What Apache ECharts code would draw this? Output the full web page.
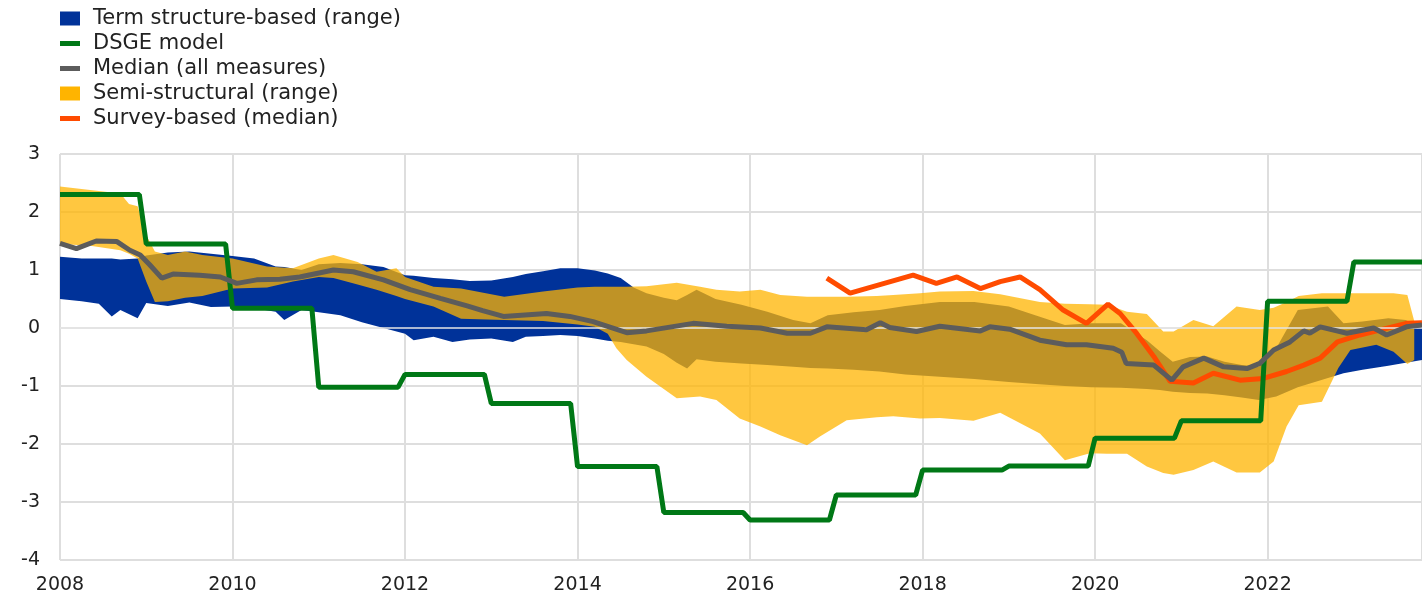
<!DOCTYPE html>
<html>
<head>
<meta charset="utf-8">
<script src="https://cdn.jsdelivr.net/npm/echarts@6/dist/echarts.min.js"></script>
<style>
  html, body { margin: 0; padding: 0; background: #fff; }
  #chart { width: 1422px; height: 591px; }
</style>
</head>
<body>
<div id="chart"></div>
<script>
// term structure-based range (blue)
var termX = [2008.0, 2008.25, 2008.45, 2008.6, 2008.7, 2008.9, 2009.0, 2009.25, 2009.5, 2009.75,
  2010.0, 2010.25, 2010.5, 2010.6, 2010.8, 2011.0, 2011.25, 2011.5, 2011.75, 2012.0,
  2012.1, 2012.33, 2012.55, 2012.75, 2013.0, 2013.25, 2013.4, 2013.6, 2013.8, 2014.0,
  2014.2, 2014.35, 2014.5, 2014.65, 2014.8, 2015.0, 2015.15, 2015.27, 2015.38, 2015.6,
  2015.9, 2016.2, 2016.5, 2016.7, 2016.9, 2017.2, 2017.5, 2017.8, 2018.2, 2018.6,
  2019.0, 2019.35, 2019.65, 2019.95, 2020.3, 2020.6, 2020.75, 2020.9, 2021.1, 2021.3,
  2021.5, 2021.7, 2021.9, 2022.1, 2022.35, 2022.7, 2022.88, 2023.1, 2023.4, 2023.6, 2023.79];
var termHigh = [1.23, 1.2, 1.2, 1.2, 1.18, 1.2, 1.25, 1.3, 1.32, 1.28,
  1.24, 1.2, 1.06, 1.05, 1.0, 1.1, 1.12, 1.1, 1.05, 0.91,
  0.9, 0.86, 0.84, 0.81, 0.82, 0.88, 0.93, 0.98, 1.03, 1.03,
  0.99, 0.94, 0.86, 0.7, 0.6, 0.52, 0.48, 0.57, 0.66, 0.5,
  0.4, 0.28, 0.14, 0.08, 0.22, 0.27, 0.31, 0.38, 0.45, 0.45,
  0.37, 0.2, 0.05, 0.08, 0.08, -0.21, -0.4, -0.58, -0.5, -0.49,
  -0.58, -0.64, -0.67, -0.35, 0.31, 0.37, 0.08, 0.11, 0.17, 0.14, 0.0];
var termLow = [0.5, 0.46, 0.42, 0.2, 0.31, 0.17, 0.43, 0.38, 0.44, 0.36,
  0.37, 0.34, 0.28, 0.14, 0.31, 0.27, 0.22, 0.1, 0.0, -0.1,
  -0.21, -0.15, -0.24, -0.2, -0.18, -0.24, -0.15, -0.14, -0.12, -0.14,
  -0.18, -0.22, -0.24, -0.28, -0.32, -0.45, -0.6, -0.7, -0.54, -0.58,
  -0.61, -0.64, -0.67, -0.69, -0.7, -0.72, -0.75, -0.8, -0.84, -0.88,
  -0.93, -0.97, -1.0, -1.02, -1.03, -1.05, -1.07, -1.1, -1.12, -1.13,
  -1.16, -1.2, -1.24, -1.18, -1.02, -0.86, -0.78, -0.72, -0.65, -0.6, -0.55];

// semi-structural range (yellow)
var semiX = [2008.0, 2008.35, 2008.7, 2008.8, 2008.9, 2009.0, 2009.1, 2009.25, 2009.45, 2009.65,
  2010.0, 2010.4, 2010.7, 2011.0, 2011.17, 2011.45, 2011.67, 2011.9, 2012.0, 2012.33,
  2012.65, 2013.15, 2013.6, 2014.0, 2014.2, 2014.35, 2014.45, 2014.57, 2014.8, 2015.15,
  2015.42, 2015.61, 2015.88, 2016.12, 2016.35, 2016.66, 2016.81, 2017.12, 2017.47, 2017.66,
  2017.97, 2018.2, 2018.59, 2018.9, 2019.36, 2019.65, 2019.94, 2020.14, 2020.37, 2020.6,
  2020.79, 2020.91, 2021.14, 2021.37, 2021.64, 2021.91, 2022.07, 2022.22, 2022.36, 2022.63,
  2022.82, 2022.96, 2023.26, 2023.46, 2023.62, 2023.7];
var semiHigh = [2.44, 2.38, 2.32, 2.14, 2.1, 1.6, 1.32, 1.26, 1.32, 1.26,
  1.2, 1.06, 1.03, 1.2, 1.26, 1.14, 0.97, 1.03, 0.88, 0.71,
  0.68, 0.54, 0.63, 0.7, 0.71, 0.71, 0.71, 0.71, 0.72, 0.78,
  0.71, 0.66, 0.63, 0.66, 0.57, 0.54, 0.54, 0.54, 0.55, 0.57,
  0.6, 0.63, 0.64, 0.58, 0.45, 0.42, 0.41, 0.4, 0.28, 0.24,
  -0.06, -0.06, 0.14, 0.03, 0.37, 0.31, 0.35, 0.45, 0.55, 0.6,
  0.6, 0.6, 0.6, 0.6, 0.57, 0.12];
var semiLow = [1.45, 1.42, 1.34, 1.28, 1.2, 0.8, 0.45, 0.46, 0.52, 0.55,
  0.68, 0.7, 0.8, 0.88, 0.86, 0.75, 0.66, 0.55, 0.5, 0.37,
  0.16, 0.14, 0.12, 0.06, 0.02, -0.1, -0.35, -0.55, -0.84, -1.21,
  -1.18, -1.24, -1.56, -1.7, -1.85, -2.02, -1.87, -1.59, -1.54, -1.52,
  -1.56, -1.55, -1.6, -1.46, -1.82, -2.28, -2.16, -2.17, -2.17, -2.39,
  -2.5, -2.53, -2.45, -2.3, -2.49, -2.49, -2.3, -1.7, -1.33, -1.27,
  -0.69, -0.38, -0.29, -0.41, -0.62, -0.55];

// DSGE model
var dsgeX = [2008.0, 2008.92, 2009.0, 2009.92, 2010.0, 2010.92, 2011.0, 2011.92, 2012.0, 2012.92,
  2013.0, 2013.92, 2014.0, 2014.92, 2015.0, 2015.92, 2016.0, 2016.92, 2017.0, 2017.92,
  2018.0, 2018.92, 2019.0, 2019.92, 2020.0, 2020.92, 2021.0, 2021.92, 2022.0, 2022.92,
  2023.0, 2023.79];
var dsgeY = [2.3, 2.3, 1.45, 1.45, 0.34, 0.34, -1.02, -1.02, -0.8, -0.8,
  -1.3, -1.3, -2.39, -2.39, -3.18, -3.18, -3.31, -3.31, -2.88, -2.88,
  -2.45, -2.45, -2.38, -2.38, -1.9, -1.9, -1.6, -1.6, 0.46, 0.46,
  1.14, 1.14];

// median of all measures
var medianX = [2008.0, 2008.19, 2008.42, 2008.66, 2008.81, 2008.93, 2009.04, 2009.18, 2009.31, 2009.62,
  2009.86, 2010.05, 2010.28, 2010.55, 2010.78, 2011.17, 2011.4, 2011.75, 2012.06, 2012.41,
  2012.72, 2012.9, 2013.14, 2013.64, 2013.91, 2014.18, 2014.57, 2014.8, 2015.34, 2015.73,
  2016.12, 2016.43, 2016.7, 2016.89, 2017.35, 2017.51, 2017.62, 2017.93, 2018.2, 2018.67,
  2018.78, 2019.01, 2019.36, 2019.67, 2019.9, 2020.21, 2020.31, 2020.36, 2020.68, 2020.89,
  2021.02, 2021.26, 2021.49, 2021.76, 2021.91, 2022.07, 2022.26, 2022.42, 2022.49, 2022.61,
  2022.92, 2023.23, 2023.38, 2023.61, 2023.79];
var medianY = [1.46, 1.37, 1.5, 1.49, 1.34, 1.26, 1.09, 0.86, 0.93, 0.91,
  0.88, 0.77, 0.83, 0.84, 0.88, 1.0, 0.97, 0.83, 0.66, 0.51,
  0.38, 0.3, 0.2, 0.25, 0.2, 0.11, -0.08, -0.05, 0.08, 0.03,
  0.0, -0.09, -0.09, 0.02, -0.03, 0.09, 0.01, -0.06, 0.03, -0.05,
  0.02, -0.02, -0.21, -0.29, -0.29, -0.35, -0.42, -0.61, -0.64, -0.9,
  -0.67, -0.52, -0.67, -0.7, -0.61, -0.38, -0.24, -0.05, -0.09, 0.02,
  -0.09, 0.0, -0.12, 0.02, 0.05];

// survey-based median
var surveyX = [2016.89, 2017.16, 2017.89, 2018.16, 2018.4, 2018.67, 2018.9, 2019.13, 2019.36, 2019.63,
  2019.9, 2020.15, 2020.29, 2020.48, 2020.68, 2020.87, 2021.14, 2021.37, 2021.68, 2021.95,
  2022.22, 2022.42, 2022.61, 2022.81, 2023.07, 2023.61, 2023.79];
var surveyY = [0.86, 0.6, 0.91, 0.77, 0.88, 0.68, 0.8, 0.88, 0.66, 0.31,
  0.08, 0.41, 0.25, -0.09, -0.49, -0.92, -0.95, -0.78, -0.9, -0.87,
  -0.75, -0.64, -0.52, -0.24, -0.12, 0.08, 0.09];

function pairs(xs, ys) {
  return xs.map(function (x, i) { return [x, ys[i]]; });
}

// filled range between low and high, drawn as one polygon through the axes
function bandSeries(name, xs, lo, hi, color, fill, z) {
  return {
    name: name,
    type: 'custom',
    z: z,
    clip: true,
    silent: true,
    itemStyle: { color: color },
    encode: { x: 0, y: [1, 2] },
    data: xs.map(function (x, i) { return [x, lo[i], hi[i]]; }),
    renderItem: function (params, api) {
      if (params.dataIndex !== 0) return null;
      var top = [], bottom = [];
      for (var i = 0; i < xs.length; i++) {
        top.push(api.coord([xs[i], hi[i]]));
        bottom.unshift(api.coord([xs[i], lo[i]]));
      }
      return {
        type: 'polygon',
        shape: { points: top.concat(bottom) },
        style: { fill: fill, stroke: null }
      };
    }
  };
}

function lineSeries(name, data, color, z) {
  return {
    name: name,
    type: 'line',
    z: z,
    data: data,
    showSymbol: false,
    symbol: 'none',
    silent: true,
    lineStyle: { color: color, width: 5 },
    itemStyle: { color: color }
  };
}

var chart = echarts.init(document.getElementById('chart'), null, { renderer: 'canvas' });
var lineIcon = 'path://M0,0 L20,0 L20,5 L0,5 Z';
var font = 'DejaVu Sans';

var option = {
  animation: false,
  backgroundColor: '#fff',
  textStyle: { fontFamily: font },
  grid: { left: 60, right: 0, top: 154, bottom: 31, outerBoundsMode: 'none' },
  legend: {
    orient: 'vertical',
    left: 60,
    top: 8,
    padding: 0,
    itemWidth: 20,
    itemHeight: 14,
    itemGap: 4,
    selectedMode: false,
    textStyle: { fontFamily: font, fontSize: 21, color: '#222', padding: [0, 0, 0, 8] },
    data: [
      { name: 'Term structure-based (range)', icon: 'rect' },
      { name: 'DSGE model', icon: lineIcon },
      { name: 'Median (all measures)', icon: lineIcon },
      { name: 'Semi-structural (range)', icon: 'rect' },
      { name: 'Survey-based (median)', icon: lineIcon }
    ]
  },
  xAxis: {
    type: 'value',
    min: 2008,
    max: 2023.79,
    interval: 2,
    axisLine: { show: false },
    axisTick: { show: false },
    axisLabel: {
      fontFamily: font,
      fontSize: 19,
      color: '#222',
      margin: 16,
      showMaxLabel: false,
      formatter: function (v) { return Math.round(v) === v ? String(v) : ''; }
    },
    splitLine: { show: true, lineStyle: { color: '#dedede', width: 2 } }
  },
  yAxis: {
    type: 'value',
    min: -4,
    max: 3,
    interval: 1,
    axisLine: { show: false },
    axisTick: { show: false },
    axisLabel: { fontFamily: font, fontSize: 19, color: '#222', margin: 20 },
    splitLine: { show: true, lineStyle: { color: '#dedede', width: 2 } }
  },
  series: [
    bandSeries('Term structure-based (range)', termX, termLow, termHigh, '#003299', '#003299', 1),
    bandSeries('Semi-structural (range)', semiX, semiLow, semiHigh, '#FFB400', 'rgba(255,180,0,0.75)', 2),
    {
      name: 'zero',
      type: 'line',
      z: 3,
      data: [],
      silent: true,
      markLine: {
        silent: true,
        symbol: 'none',
        label: { show: false },
        lineStyle: { color: '#e6e6e6', width: 1.5, type: 'solid' },
        data: [{ yAxis: 0 }]
      }
    },
    lineSeries('Survey-based (median)', pairs(surveyX, surveyY), '#FF4B00', 4),
    lineSeries('DSGE model', pairs(dsgeX, dsgeY), '#007816', 5),
    lineSeries('Median (all measures)', pairs(medianX, medianY), '#5C5C5C', 6)
  ]
};

chart.setOption(option);
</script>
</body>
</html>
